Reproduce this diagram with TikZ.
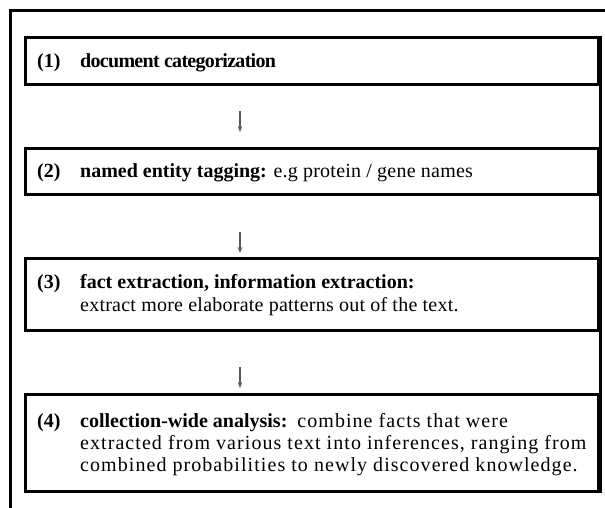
\documentclass[tikz,border=0pt]{standalone}
\usepackage{fontspec}
\setmainfont{Liberation Serif}
\newfontfamily\slightfont[LetterSpace=1.2]{Liberation Serif}
\newfontfamily\spacedfont[LetterSpace=5.3]{Liberation Serif}
\newfontfamily\tightfont[LetterSpace=-3.5]{Liberation Serif}
\usetikzlibrary{arrows.meta}
\begin{document}
\begin{tikzpicture}[x=1pt,y=-1pt,
  frame/.style={line width=3pt,draw=black},
  box/.style={draw=black,line width=3pt,minimum width=573pt,inner sep=0pt,fill=none},
  num/.style={anchor=base west,inner sep=0pt,font=\fontsize{20}{22}\selectfont\bfseries},
  txt/.style={anchor=base west,inner sep=0pt,font=\fontsize{20}{22}\selectfont},
  arr/.style={draw=black!65,line width=1.1pt,-{Stealth[length=6pt,width=4.5pt,fill=black]}}]
\fill[white] (0,0) rectangle (605,507);
\useasboundingbox (0,0) rectangle (605,507);
% outer frame (clipped by page)
\draw[frame] (612,10.5) -- (10.5,10.5) -- (10.5,515);
% boxes
\node[box,minimum height=47pt] (b1) at (312,61) {};
\node[box,minimum height=46pt] (b2) at (312,171) {};
\node[box,minimum height=72.5pt] (b3) at (312,294.25) {};
\node[box,minimum height=96.5pt] (b4) at (312,442.75) {};
\draw[line width=3pt] (b1.north east) -- (b4.south east);
% texts
\node[num] (n1) at (37,67) {(1)};
\node[txt] (t1) at (80,67) {\tightfont\bfseries document categorization};
\node[num] (n2) at (37,177) {(2)};
\node[txt] (t2) at (80,177) {\textbf{named entity tagging:} {\slightfont e.g protein / gene names}};
\node[num] (n3) at (37,288.5) {(3)};
\node[txt] (t3a) at (80,288.5) {\bfseries fact extraction, information extraction:};
\node[txt] (t3b) at (80,311) {\slightfont extract more elaborate patterns out of the text.};
\node[num] (n4) at (37,427) {(4)};
\node[txt] (t4a) at (80,427) {\textbf{collection-wide analysis:}\ \ {\spacedfont combine facts that were}};
\node[txt] (t4b) at (80,449) {\spacedfont extracted from various text into inferences, ranging from};
\node[txt] (t4c) at (80,471) {\spacedfont combined probabilities to newly discovered knowledge.};
% arrows
\coordinate (a1s) at (240,111); \coordinate (a1e) at (240,132);
\coordinate (a2s) at (240,232); \coordinate (a2e) at (240,253);
\coordinate (a3s) at (240,367); \coordinate (a3e) at (240,388);
\draw[arr] (a1s) -- (a1e);
\draw[arr] (a2s) -- (a2e);
\draw[arr] (a3s) -- (a3e);
\end{tikzpicture}
\end{document}
